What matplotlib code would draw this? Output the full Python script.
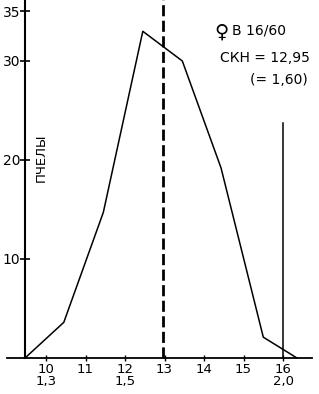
import matplotlib.pyplot as plt

# class midpoints and counts of bees
x_vals = [9.47, 10.45, 11.45, 12.45, 13.45, 14.43, 15.5, 16.35]
counts = [0, 3.6, 14.7, 33.0, 30.0, 19.2, 2.1, 0]

mean_x = 12.95
limit_x = 16.0
limit_top = 23.7

x_ticks = [10, 11, 12, 13, 14, 15, 16]
x_labels = ['10\n1,3', '11', '12\n1,5', '13', '14', '15', '16\n2,0']
y_ticks = [10, 20, 30, 35]

plt.rcParams['font.family'] = 'DejaVu Sans'

fig = plt.figure(figsize=(3.19, 3.94), dpi=100)
ax = fig.add_axes([0, 0, 1, 1])
ax.set_xlim(8.835, 16.91)
ax.set_ylim(-3.64, 36.16)

ax.plot(x_vals, counts, color='black', lw=1.1, clip_on=False)
ax.plot([mean_x, mean_x], [0, 36.2], color='black', lw=2.0,
        dashes=(4, 1.6), clip_on=False)
ax.plot([limit_x, limit_x], [0, limit_top], color='black', lw=1.1)

for s in ['top', 'right']:
    ax.spines[s].set_visible(False)
ax.spines['left'].set_position(('data', 9.47))
ax.spines['bottom'].set_position(('data', 0))
ax.spines['left'].set_bounds(0, 36.2)
ax.spines['bottom'].set_bounds(9.0, 16.73)
ax.spines['left'].set_linewidth(1.5)
ax.spines['bottom'].set_linewidth(1.3)

ax.set_xticks(x_ticks)
ax.set_xticklabels(x_labels, fontsize=9.5, linespacing=0.95)
ax.set_yticks(y_ticks)
ax.set_yticklabels([str(t) for t in y_ticks], fontsize=10)
ax.tick_params(axis='y', direction='inout', length=7, width=1.2, pad=0)
ax.tick_params(axis='x', direction='inout', length=5, width=1.0, pad=1)

ax.text(9.89, 20.2, 'ПЧЕЛЫ', rotation=90, fontsize=9.5,
        ha='center', va='center')

ax.text(14.44, 32.9, '♀', fontsize=14, fontweight='bold',
        ha='center', va='center')
ax.text(14.7, 33.1, 'В 16/60', fontsize=10, ha='left', va='center')
ax.text(16.68, 30.3, 'СКН = 12,95', fontsize=10, ha='right', va='center')
ax.text(16.62, 28.1, '(= 1,60)', fontsize=10, ha='right', va='center')

fig.savefig('out.png', dpi=100)
